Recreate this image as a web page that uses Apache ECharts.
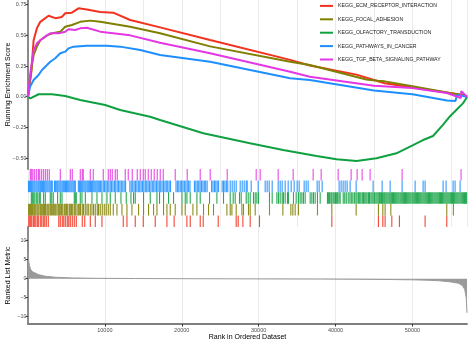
<!DOCTYPE html>
<html><head><meta charset="utf-8">
<script src="https://cdn.jsdelivr.net/npm/echarts@6/dist/echarts.min.js"></script>
<style>html,body{margin:0;padding:0;background:#fff}#c{width:472px;height:342px}</style>
</head><body><div id="c"></div>
<script>
const N = 57100;
const setNames = ['KEGG_ECM_RECEPTOR_INTERACTION','KEGG_FOCAL_ADHESION','KEGG_OLFACTORY_TRANSDUCTION','KEGG_PATHWAYS_IN_CANCER','KEGG_TGF_BETA_SIGNALING_PATHWAY'];
const setColors = ['#F2321F','#7F7F00','#0FA040','#1E8FFF','#E436E4'];

// running enrichment score [rank, ES]
const esECM = [[0,0],[430,0.20],[730,0.46],[1170,0.56],[1600,0.61],[2680,0.66],[3545,0.64],[4415,0.65],[4840,0.68],[5710,0.685],[6570,0.72],[7660,0.71],[9390,0.69],[11080,0.685],[13290,0.625],[17180,0.565],[23680,0.462],[34100,0.30],[36660,0.255],[42730,0.18],[46400,0.11],[51650,0.06],[54840,0.03],[56530,0.015],[57100,0]];
const esFocal = [[0,0],[520,0.26],[730,0.34],[1170,0.41],[1600,0.46],[2470,0.50],[3320,0.52],[4200,0.53],[4840,0.57],[5710,0.584],[6790,0.61],[8090,0.62],[9390,0.61],[13290,0.57],[17180,0.517],[23680,0.41],[34100,0.285],[36660,0.258],[44000,0.14],[45500,0.13],[46400,0.125],[50000,0.085],[54840,0.03],[56530,0.015],[57100,0]];
const esOlf = [[0,0],[300,-0.013],[1380,0.02],[3120,0.02],[4840,0.006],[6790,-0.027],[10040,-0.068],[11990,-0.108],[15880,-0.163],[17180,-0.19],[22800,-0.298],[28870,-0.38],[33190,-0.434],[37530,-0.483],[40130,-0.51],[42730,-0.524],[45320,-0.502],[47920,-0.461],[50080,-0.394],[51380,-0.353],[52680,-0.32],[53970,-0.23],[54840,-0.163],[55710,-0.108],[56570,-0.054],[57010,-0.013],[57100,0]];
const esCancer = [[0,0],[260,0.08],[730,0.136],[1370,0.177],[1820,0.218],[2470,0.258],[2900,0.285],[3545,0.313],[4200,0.354],[4840,0.367],[5270,0.394],[5920,0.408],[7660,0.416],[10260,0.416],[11990,0.408],[14600,0.38],[17180,0.34],[23680,0.285],[34100,0.15],[36660,0.136],[45000,0.05],[50000,0.02],[54500,-0.03],[55600,-0.035],[55800,0.015],[57100,0]];
const esTGF = [[0,0],[300,0.19],[730,0.38],[1170,0.435],[1600,0.46],[2470,0.50],[2900,0.517],[4000,0.517],[4840,0.53],[5300,0.55],[6140,0.544],[6790,0.557],[7660,0.562],[9390,0.53],[13290,0.50],[17180,0.44],[23680,0.354],[34100,0.204],[36660,0.163],[45000,0.09],[50000,0.07],[54500,0.03],[56300,-0.01],[56350,0.045],[57100,0]];

// hit positions (rank)
const hitsECM = [100,230,360,490,690,820,1010,1210,1340,1600,1790,1990,2180,2380,2640,4000,4200,4460,4650,4850,5110,5300,5500,5760,6020,6280,7060,7380,8100,8750,9620,12390,12870,13950,14990,16550,18070,19010,20670,21100,22400,22790,24740,27080,27340,27950,28900,30110,39520,45580,46150,46450,47320,48310,51650,54470];
const hitsFocal = [80,210,340,470,600,750,870,1010,1170,1300,1430,1600,1730,1860,2030,2160,2290,2470,2600,2730,2900,3030,3160,3330,3480,3610,3770,3940,4070,4200,4370,4520,4720,4850,5020,5170,5370,5500,5670,5820,6020,6150,6370,6540,6670,6840,7060,7230,7450,7670,7840,8100,8320,8530,8750,9010,9180,9400,9660,9920,10180,10440,10700,11090,11570,12220,12870,13520,14380,15030,15680,16330,16770,17630,18070,18500,19150,20020,20450,21450,21970,22830,23480,24130,25870,26300,26520,27080,27820,28030,28680,28900,29550,31410,33150,34190,34450,34750,35180,37650,39520,42680,45580,46150,46450,47190,54470,55330];
const hitsOlf = [430,560,690,880,1080,1270,1470,1600,2030,2250,2900,3090,3290,3850,4200,4420,6020,6150,6280,6800,7020,7460,8320,8970,9620,10270,10700,11350,12090,12780,13390,13730,13950,15030,15900,16770,17110,17630,18280,18930,20020,20450,20670,21100,21970,22400,23610,24570,25430,26300,26690,26950,27510,27730,28380,28640,28900,29330,29550,29770,29980,31410,31760,32370,32580,32800,33060,33230,33450,33750,33880,34530,34880,35180,35400,35620,35830,36050,36700,36920,37130,37350,37650,38000,
38950,39100,39230,39400,39520,39690,39830,40000,40150,40280,40450,40600,41000,41200,41400,41650,41870,42050,42250,42450,42650,42800,43000,43150,43300,43480,43630,43800,43950,44100,44280,44420,44600,44750,44900,45080,45250,45400,
45550,45700,45830,45980,46120,46270,46400,46550,46690,46830,46980,47110,47260,47400,47540,47690,47830,47970,48110,48250,48400,48540,48680,48820,48960,49100,49250,49390,49530,49670,49810,49960,50100,50240,50380,50520,50670,50810,50950,51090,51230,51380,51520,51660,51800,51940,52090,52230,52370,52510,52650,52800,52940,53080,53220,53360,53510,53650,53790,53930,54070,54220,54360,54500,54640,54780,54930,55070,55210,55350,55490,55640,55780,55920,56060,56200,56350,56490,56630,56770,56910,57050];
const hitsCancer = [60,190,330,470,610,760,890,1040,1180,1330,1460,1610,1740,1890,2030,2170,2320,2460,2600,2750,2890,3030,3160,3450,3590,3740,3870,4020,4160,4300,4450,4590,4730,4880,5020,5160,5300,5450,5590,5730,5880,6020,6160,6550,6690,6840,6980,7120,7270,7410,7550,7700,7840,7980,8130,8270,8410,8560,8700,8840,8990,9130,9270,
9420,9600,9790,9960,10150,10320,10510,10690,10870,11050,11240,11410,11600,11780,11960,12140,12330,12510,12690,13250,13430,13620,13800,13980,14160,14350,14530,14710,14890,15070,15260,15440,15620,15800,15990,16170,16350,16530,16720,16900,17080,17260,17440,17630,17810,17990,18170,18360,18540,19250,19430,19610,19800,19980,20160,20340,20530,20710,20890,21070,21650,21830,22020,22200,22380,22560,22750,22930,23110,23300,23880,24060,24250,24430,24610,24790,25250,25430,25610,25800,25980,
26300,26560,26820,27080,27600,27860,28120,28380,28510,29030,29940,30850,31110,31370,31760,32540,32800,33060,33450,33840,34230,34620,35010,35270,35920,36180,36440,37610,37870,38260,40470,40730,40990,41250,41510,41900,42680,44890,46060,47100,48660,50350,51390,51650,53990,54380,55290,55550,56200];
const hitsTGF = [300,430,620,820,1080,1340,1470,1730,1990,2250,2510,2770,4200,5500,5760,6800,7060,7190,8100,8490,9790,10440,10700,10960,11350,11610,12650,13040,13560,14210,14600,14990,15250,15640,16030,16420,16810,17200,17590,19150,20710,22400,23700,25910,29680,30200,32540,34490,37090,38130,40340,42030,42810,43460,44500,48660,56330];

// ranked list metric [rank, value]
const metric = [[0,7],[100,4.5],[200,3.4],[350,2.4],[600,1.8],[850,1.5],[1400,1.05],[2300,0.63],[3600,0.37],[5800,0.2],[9000,0.1],[14000,0.04],[20000,0.0],[26000,-0.03],[32000,-0.07],[38000,-0.1],[43000,-0.15],[47000,-0.22],[50000,-0.3],[52000,-0.4],[53500,-0.55],[55000,-0.85],[56000,-1.2],[56500,-1.8],[56800,-2.8],[57000,-5],[57100,-9]];

const xTicks = [10000,20000,30000,40000,50000];
const esTicks = [-0.5,-0.25,0,0.25,0.5,0.75];
const metricTicks = [-10,-5,0,5,10];

const esSeries = [esECM, esFocal, esOlf, esCancer, esTGF];
const hitSeries = [hitsECM, hitsFocal, hitsOlf, hitsCancer, hitsTGF];
const rugRow = [4,3,2,1,0]; // ECM bottom ... TGF top

const FONT = 'Liberation Sans, Arial, sans-serif';
const minus = s => String(s).replace('-', '\u2212');
const gridLine = {show:true, lineStyle:{color:'#EBEBEB', width:1}};
const axisCol = '#7f7f7f';

const chart = echarts.init(document.getElementById('c'), null, {renderer:'canvas'});
const series = [];
esSeries.forEach((d,i)=>{
  series.push({name:setNames[i], type:'line', xAxisIndex:0, yAxisIndex:0, data:d, symbol:'none',
    lineStyle:{width:2, color:setColors[i]}, itemStyle:{color:setColors[i]}, z:3});
});
hitSeries.forEach((h,i)=>{
  series.push({name:'rug'+i, type:'scatter', xAxisIndex:1, yAxisIndex:1,
    data:h.map(r=>[r, rugRow[i]+0.5]), symbol:'rect', symbolSize:[1.1,11.6],
    itemStyle:{color:setColors[i], opacity:0.9}, silent:true});
});
series.push({name:'metric', type:'line', xAxisIndex:2, yAxisIndex:2, data:metric, symbol:'none',
  lineStyle:{width:1, color:'#9a9a9a'}, areaStyle:{color:'#9a9a9a', opacity:1, origin:0}});

const g = (top,height)=>({left:28, right:5, top:top, height:height, containLabel:false, outerBoundsMode:'none'});

chart.setOption({
  animation:false,
  textStyle:{fontFamily:FONT},
  legend:{data:setNames, orient:'vertical', left:319, top:2.7, itemWidth:13, itemHeight:8, itemGap:7, padding:0,
    itemStyle:{opacity:0},
    textStyle:{fontSize:5.2, color:'#1a1a1a', fontFamily:FONT}},
  grid:[g(0,169), g(169,58), g(227,97)],
  xAxis:[
    {gridIndex:0, type:'value', min:0, max:N, interval:5000, axisLine:{show:false}, axisTick:{show:false}, axisLabel:{show:false}, splitLine:gridLine},
    {gridIndex:1, type:'value', min:0, max:N, interval:5000, axisLine:{show:false}, axisTick:{show:false}, axisLabel:{show:false}, splitLine:gridLine},
    {gridIndex:2, type:'value', min:0, max:N, interval:5000,
      axisLine:{show:true, onZero:false, lineStyle:{color:axisCol, width:1.8}},
      axisTick:{show:true, length:2.5, lineStyle:{color:'#333'}, customValues:xTicks},
      axisLabel:{show:true, customValues:xTicks, fontSize:5.5, color:'#4d4d4d', margin:3, hideOverlap:false, formatter:v=>String(v)},
      splitLine:gridLine,
      name:'Rank in Ordered Dataset', nameLocation:'middle', nameGap:9.5, nameMoveOverlap:false, nameTextStyle:{fontSize:7, color:'#000'}}
  ],
  yAxis:[
    {gridIndex:0, type:'value', min:-0.589, max:0.788,
      axisLine:{show:true, lineStyle:{color:axisCol, width:1.8}},
      axisTick:{show:true, length:2.5, lineStyle:{color:'#333'}, customValues:esTicks},
      axisLabel:{customValues:esTicks, fontSize:5.5, color:'#4d4d4d', margin:1.5, hideOverlap:false, formatter:v=>minus(v.toFixed(2))},
      splitLine:{show:false},
      name:'Running Enrichment Score', nameLocation:'middle', nameGap:16, nameMoveOverlap:false, nameTextStyle:{fontSize:7, color:'#000'}},
    {gridIndex:1, type:'value', min:0, max:5, inverse:true, show:false, splitLine:{show:false}},
    {gridIndex:2, type:'value', min:-11.92, max:13.6,
      axisLine:{show:true, lineStyle:{color:axisCol, width:1.8}},
      axisTick:{show:true, length:2.5, lineStyle:{color:'#333'}, customValues:metricTicks},
      axisLabel:{customValues:metricTicks, fontSize:5.5, color:'#4d4d4d', margin:1.5, hideOverlap:false, formatter:v=>minus(v)},
      splitLine:{show:false},
      name:'Ranked List Metric', nameLocation:'middle', nameGap:16, nameMoveOverlap:false, nameTextStyle:{fontSize:7, color:'#000'}}
  ],
  series:series
});
</script>
</body></html>
